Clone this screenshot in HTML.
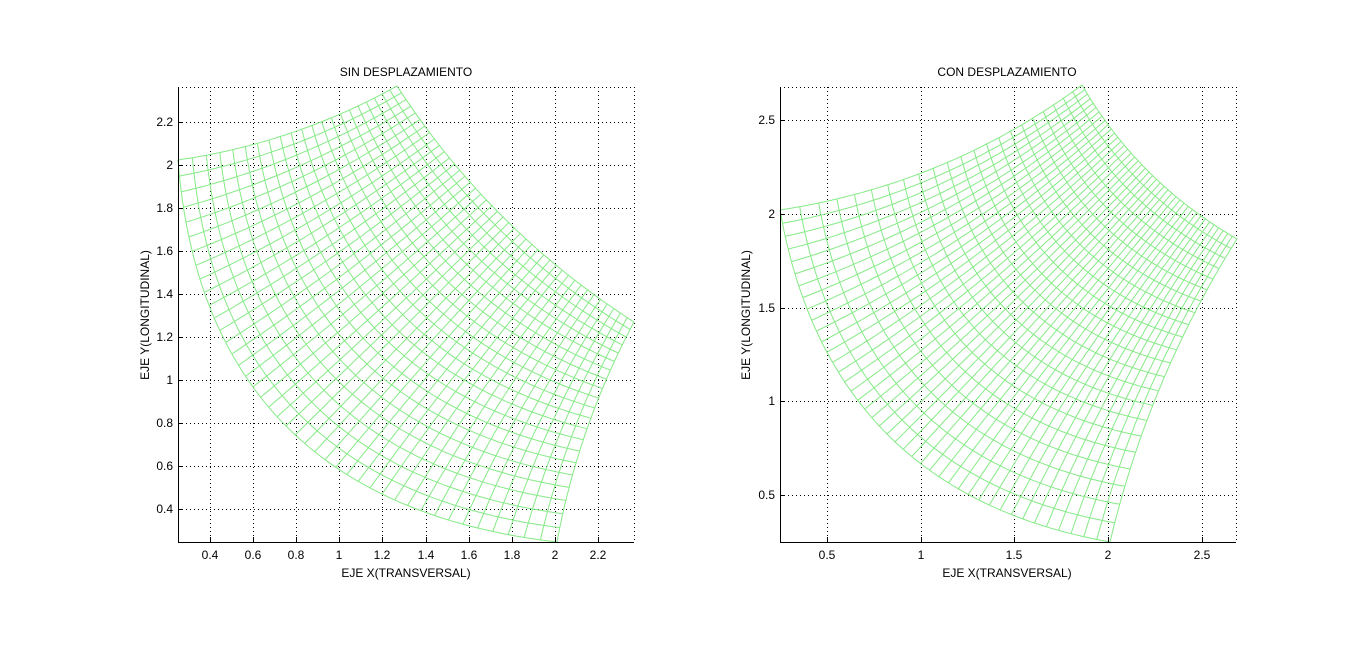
<!DOCTYPE html>
<html><head><meta charset="utf-8"><style>
body{margin:0;background:#fff;}
svg{display:block;font-family:"Liberation Sans",Arial,sans-serif;}
</style></head><body>
<svg id="s" width="1367" height="651" viewBox="0 0 1367 651" xmlns="http://www.w3.org/2000/svg">
<rect width="1367" height="651" fill="#fff"/>
<g id="grid" stroke="#000" stroke-width="1" stroke-dasharray="1,3" fill="none"></g>
<g id="mesh" stroke="#86ea86" stroke-width="1" fill="none"></g>
<g id="axes" stroke="#000" stroke-width="1" fill="none"></g>
<g id="txt" font-size="12" fill="#000"></g>
<text x="406" y="76" font-size="12" text-anchor="middle">SIN DESPLAZAMIENTO</text>
<text x="1007" y="76" font-size="12" text-anchor="middle">CON DESPLAZAMIENTO</text>
<text x="406" y="577" font-size="12" text-anchor="middle">EJE X(TRANSVERSAL)</text>
<text x="1007" y="577" font-size="12" text-anchor="middle">EJE X(TRANSVERSAL)</text>
<text transform="translate(149,315) rotate(-90)" font-size="12" text-anchor="middle">EJE Y(LONGITUDINAL)</text>
<text transform="translate(750,315) rotate(-90)" font-size="12" text-anchor="middle">EJE Y(LONGITUDINAL)</text>
</svg>
<script>
var NS="http://www.w3.org/2000/svg";
function el(p,tag,a,t){var e=document.createElementNS(NS,tag);for(var k in a)e.setAttribute(k,a[k]);if(t!=null)e.textContent=t;document.getElementById(p).appendChild(e);}
function axes(x0,x1,y0,y1,xt,yt,fx,fy){
 xt.forEach(function(v){var x=fx(v);el("grid","line",{x1:x+.5,y1:y0,x2:x+.5,y2:y1});
   el("axes","line",{x1:x+.5,y1:y1,x2:x+.5,y2:y1-5});
   el("txt","text",{x:x,y:y1+17,"text-anchor":"middle"},String(v));});
 yt.forEach(function(v){var y=fy(v);el("grid","line",{x1:x0,y1:y+.5,x2:x1,y2:y+.5});
   el("axes","line",{x1:x0,y1:y+.5,x2:x0+5,y2:y+.5});
   el("txt","text",{x:x0-5,y:y+4,"text-anchor":"end"},String(v));});
 el("grid","line",{x1:x0,y1:y0+.5,x2:x1,y2:y0+.5});
 el("grid","line",{x1:x1+.5,y1:y0,x2:x1+.5,y2:y1});
 el("axes","line",{x1:x0+.5,y1:y0,x2:x0+.5,y2:y1+.5});
 el("axes","line",{x1:x0,y1:y1+.5,x2:x1,y2:y1+.5});
}
function q(P0,M,P2){var C=[2*M[0]-(P0[0]+P2[0])/2,2*M[1]-(P0[1]+P2[1])/2];
 return function(t){var a=(1-t)*(1-t),b=2*t*(1-t),c=t*t;return [a*P0[0]+b*C[0]+c*P2[0],a*P0[1]+b*C[1]+c*P2[1]];};}
function mesh(A,B,C,D,mAD,mBC,mAB,mDC,NU,NV,K){
 var O=q(A,mAD,D),I=q(B,mBC,C),L=q(A,mAB,B),R=q(D,mDC,C);
 function S(u,v){var o=O(u),i=I(u),l=L(v),r=R(v),res=[];
  for(var k=0;k<2;k++)res[k]=(1-v)*o[k]+v*i[k]+(1-u)*l[k]+u*r[k]-((1-u)*(1-v)*A[k]+u*(1-v)*D[k]+(1-u)*v*B[k]+u*v*C[k]);return res;}
 function V(s){return (1-Math.pow(K,-s))/(1-1/K);}
 var st=80,i,j,d,p;
 for(i=0;i<=NV;i++){d="";var vv=V(i/NV);for(j=0;j<=st;j++){p=S(j/st,vv);d+=(j?"L":"M")+p[0].toFixed(1)+","+p[1].toFixed(1);}el("mesh","path",{d:d});}
 for(i=0;i<=NU;i++){d="";for(j=0;j<=st;j++){p=S(i/NU,V(j/st));d+=(j?"L":"M")+p[0].toFixed(1)+","+p[1].toFixed(1);}el("mesh","path",{d:d});}
}
axes(178,634,87,542,[0.4,0.6,0.8,1,1.2,1.4,1.6,1.8,2,2.2],[0.4,0.6,0.8,1,1.2,1.4,1.6,1.8,2,2.2],
 function(v){return Math.round(210+(v-0.4)*215.6);},function(v){return Math.round(509-(v-0.4)*215);});
axes(780,1236,87,542,[0.5,1,1.5,2,2.5],[0.5,1,1.5,2,2.5],
 function(v){return Math.round(827+(v-0.5)*187.3);},function(v){return Math.round(495-(v-0.5)*187.3);});
mesh([178,160],[397,86],[634,322],[557,542],[286,426],[503,217],[291,133],[587,429],42,21,1.8);
mesh([780,210],[1082,85],[1237,239],[1110,542],[887,434],[1149,172],[939,166],[1161,385],42,22,1.8);
</script>
</body></html>
